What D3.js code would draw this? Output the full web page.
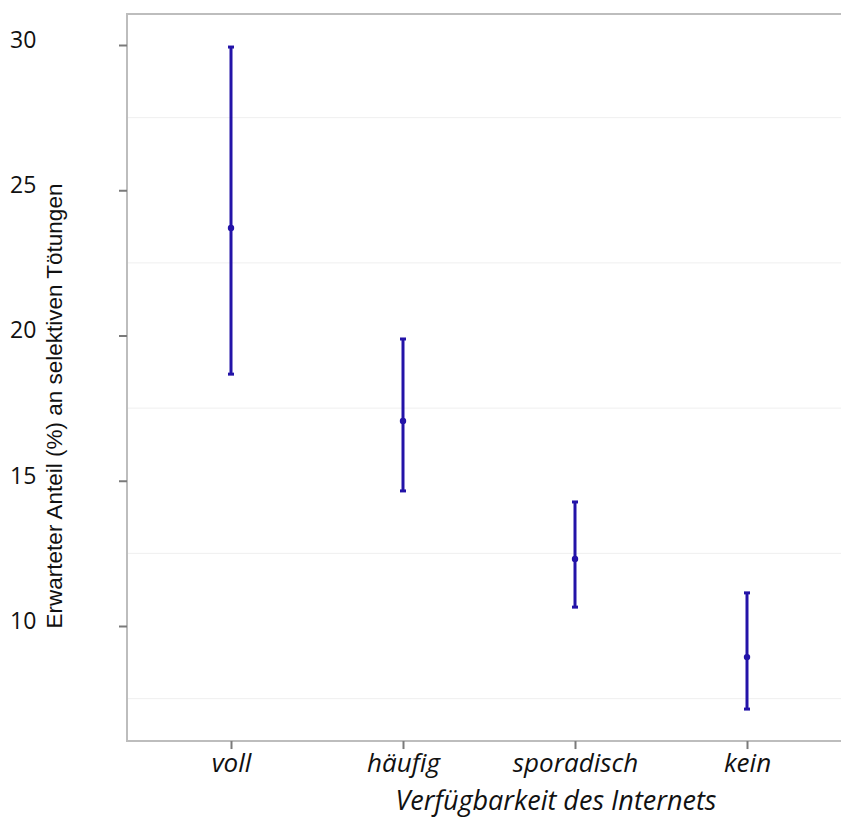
<!DOCTYPE html>
<html>
<head>
<meta charset="utf-8">
<script src="https://d3js.org/d3.v7.min.js"></script>
<style>
  body { margin: 0; background: #fff; }
  svg { display: block; }
</style>
</head>
<body>
<div id="chart"></div>
<script>
var categories = ["voll", "häufig", "sporadisch", "kein"];
var means = [23.7, 17.06, 12.31, 8.93];
var lower = [18.67, 14.65, 10.65, 7.14];
var upper = [29.93, 19.88, 14.27, 11.14];
var yTicks = [10, 15, 20, 25, 30];
var yGrid = [7.5, 12.5, 17.5, 22.5, 27.5];

var w = 841, h = 817;
var colour = "#2313a8";

var svg = d3.select("#chart")
    .append("svg")
    .attr("width", w)
    .attr("height", h);

// y: 30 -> 45px, 10 -> 626px
var y = d3.scaleLinear().domain([10, 30]).range([626, 45]);
var x = d3.scaleLinear().domain([0, 3]).range([231, 747]);

var plotLeft = 127, plotRight = 841;
var plotTop = y(31.07), plotBottom = y(6.04);

// minor grid lines
svg.selectAll("line.grid")
    .data(yGrid)
    .enter()
    .append("line")
    .attr("class", "grid")
    .attr("x1", plotLeft).attr("x2", plotRight)
    .attr("y1", function(d) { return y(d); })
    .attr("y2", function(d) { return y(d); })
    .attr("stroke", "#efefef")
    .attr("stroke-width", 1);

// frame lines: top, left, bottom (open on the right)
svg.append("path")
    .attr("d", "M" + plotRight + "," + plotTop + "H" + plotLeft + "V" + plotBottom + "H" + plotRight)
    .attr("fill", "none")
    .attr("stroke", "#bdbdbd")
    .attr("stroke-width", 2);

// y axis
var yAxis = svg.append("g")
    .attr("transform", "translate(" + plotLeft + ",0)")
    .call(d3.axisLeft(y).tickValues(yTicks).tickSize(8).tickFormat(d3.format("d")));
yAxis.select(".domain").remove();
yAxis.selectAll(".tick line").attr("stroke", "#7a7a7a").attr("stroke-width", 2);
yAxis.selectAll(".tick text")
    .attr("x", -117)
    .attr("dy", "0.1em")
    .attr("text-anchor", "start")
    .attr("font-family", "'Open Sans', sans-serif")
    .attr("font-size", "23px")
    .attr("fill", "#111");

// x axis
var xAxis = svg.append("g")
    .attr("transform", "translate(0," + plotBottom + ")")
    .call(d3.axisBottom(x).tickValues([0, 1, 2, 3]).tickSize(8)
        .tickFormat(function(d) { return categories[d]; }));
xAxis.select(".domain").remove();
xAxis.selectAll(".tick line").attr("stroke", "#7a7a7a").attr("stroke-width", 2);
xAxis.selectAll(".tick text")
    .attr("y", 13)
    .attr("font-family", "'Open Sans', sans-serif")
    .attr("font-style", "italic")
    .attr("font-size", "26px")
    .attr("fill", "#111");

// axis titles
svg.append("text")
    .text("Verfügbarkeit des Internets")
    .attr("x", 556)
    .attr("y", 810)
    .attr("text-anchor", "middle")
    .attr("font-family", "'Open Sans', sans-serif")
    .attr("font-style", "italic")
    .attr("font-size", "27px")
    .attr("fill", "#111");

svg.append("text")
    .text("Erwarteter Anteil (%) an selektiven Tötungen")
    .attr("transform", "translate(62,406) rotate(-90)")
    .attr("text-anchor", "middle")
    .attr("font-family", "'Liberation Sans', Arial, sans-serif")
    .attr("font-size", "22.5px")
    .attr("fill", "#111");

// error bars
var bars = svg.selectAll("g.bar")
    .data(categories)
    .enter()
    .append("g")
    .attr("class", "bar");

bars.append("line")
    .attr("x1", function(d, i) { return x(i); })
    .attr("x2", function(d, i) { return x(i); })
    .attr("y1", function(d, i) { return y(lower[i]); })
    .attr("y2", function(d, i) { return y(upper[i]); })
    .attr("stroke", colour)
    .attr("stroke-width", 3);

bars.append("line")
    .attr("x1", function(d, i) { return x(i) - 3; })
    .attr("x2", function(d, i) { return x(i) + 3; })
    .attr("y1", function(d, i) { return y(upper[i]); })
    .attr("y2", function(d, i) { return y(upper[i]); })
    .attr("stroke", colour)
    .attr("stroke-width", 3);

bars.append("line")
    .attr("x1", function(d, i) { return x(i) - 3; })
    .attr("x2", function(d, i) { return x(i) + 3; })
    .attr("y1", function(d, i) { return y(lower[i]); })
    .attr("y2", function(d, i) { return y(lower[i]); })
    .attr("stroke", colour)
    .attr("stroke-width", 3);

bars.append("circle")
    .attr("cx", function(d, i) { return x(i); })
    .attr("cy", function(d, i) { return y(means[i]); })
    .attr("r", 3.2)
    .attr("fill", colour);
</script>
</body>
</html>
